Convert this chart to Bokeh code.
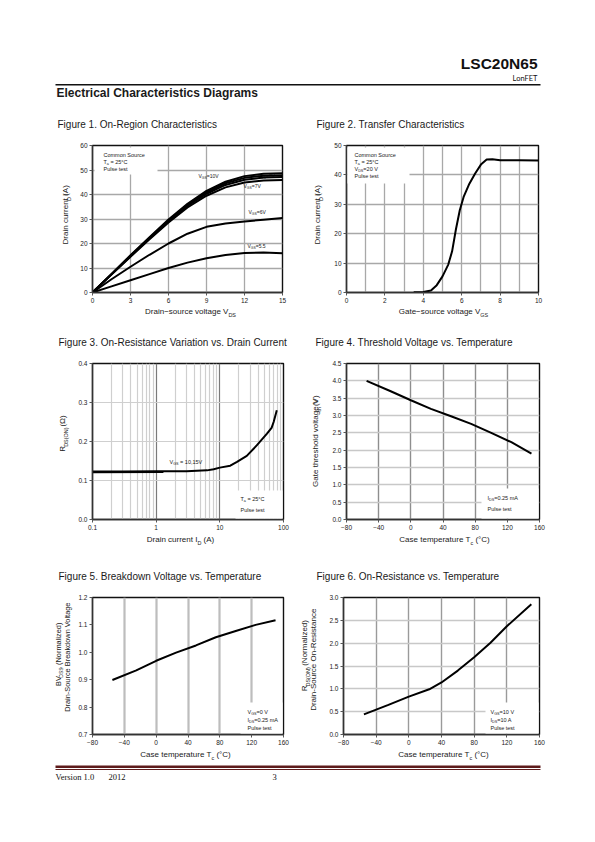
import math
from bokeh.plotting import figure
from bokeh.models import Range1d, Label, BoxAnnotation, FixedTicker, NumeralTickFormatter
from bokeh.layouts import column, row
from bokeh.embed import file_html
from bokeh.resources import INLINE

FONT = "Liberation Sans"

# ---------------- data ----------------
# Figure 1: On-Region Characteristics
fig1_vds = [0, 1.5, 3, 4.5, 6, 7.5, 9, 10.5, 12, 13.5, 15]
fig1_id_vgs10 = [0, 7.6, 15.2, 22.6, 29.8, 36.2, 41.5, 45.2, 47.5, 48.5, 48.7]
fig1_id_vgs8 = [0, 7.5, 15.0, 22.3, 29.4, 35.8, 40.9, 44.6, 46.8, 47.7, 47.9]
fig1_id_vgs7_5 = [0, 7.4, 14.8, 22.0, 29.0, 35.3, 40.3, 43.9, 46.0, 46.9, 47.1]
fig1_id_vgs7 = [0, 7.3, 14.6, 21.7, 28.6, 34.7, 39.5, 42.9, 44.9, 45.7, 45.9]
fig1_id_vgs6 = [0, 5.4, 10.5, 15.4, 20.0, 24.0, 26.8, 28.2, 29.0, 29.7, 30.4]
fig1_id_vgs5_5 = [0, 2.5, 5.0, 7.5, 10.0, 12.2, 14.0, 15.3, 16.1, 16.3, 16.0]
fig1_xticks = [0, 3, 6, 9, 12, 15]
fig1_yticks = [0, 10, 20, 30, 40, 50, 60]

# Figure 2: Transfer Characteristics
fig2_vgs = [3.5, 4.0, 4.4, 4.7, 5.0, 5.3, 5.5, 5.7, 5.9, 6.1, 6.4, 6.7, 7.0, 7.3, 7.6, 8.0, 9.0, 10.0]
fig2_id = [0.1, 0.2, 0.7, 2.5, 5.5, 9.5, 14.0, 21.5, 28.0, 32.5, 37.0, 40.5, 43.5, 45.2, 45.3, 45.0, 45.0, 44.9]
fig2_xticks = [0, 2, 4, 6, 8, 10]
fig2_xgrid = [1, 2, 3, 4, 5, 6, 7, 8, 9]
fig2_yticks = [0, 10, 20, 30, 40, 50]

# Figure 3: On-Resistance vs Drain Current
fig3_id = [0.1, 0.3, 1, 3, 6.3, 8, 10, 14.6, 18.6, 26.5, 38, 55, 65, 70, 78.5]
fig3_rds = [0.123, 0.123, 0.124, 0.124, 0.126, 0.129, 0.133, 0.138, 0.148, 0.163, 0.19, 0.22, 0.235, 0.25, 0.28]
fig3_id_15v = [0.1, 1.3]
fig3_rds_15v = [0.121, 0.122]
fig3_xticks = [0.1, 1, 10, 100]
fig3_xlabels = ["0.1", "1", "10", "100"]
fig3_xminor = [0.2, 0.3, 0.4, 0.5, 0.6, 0.7, 0.8, 0.9, 2, 3, 4, 5, 6, 7, 8, 9,
               20, 30, 40, 50, 60, 70, 80, 90]
fig3_yticks = [0.0, 0.1, 0.2, 0.3, 0.4]

# Figure 4: Threshold Voltage vs Temperature
fig4_tc = [-55, -25, 0, 25, 50, 75, 100, 125, 150]
fig4_vth = [4.0, 3.70, 3.44, 3.19, 2.98, 2.76, 2.50, 2.23, 1.90]
fig4_yticks = [0.0, 0.5, 1.0, 1.5, 2.0, 2.5, 3.0, 3.5, 4.0, 4.5]

# Figure 5: Breakdown Voltage vs Temperature
fig5_tc = [-55, -25, 0, 25, 50, 75, 100, 125, 150]
fig5_bv = [0.899, 0.934, 0.969, 0.999, 1.025, 1.055, 1.078, 1.100, 1.117]
fig5_yticks = [0.7, 0.8, 0.9, 1.0, 1.1, 1.2]

# Figure 6: On-Resistance vs Temperature
fig6_tc = [-55, -25, 0, 25, 40, 60, 80, 100, 120, 150]
fig6_rds = [0.44, 0.65, 0.83, 0.99, 1.14, 1.40, 1.69, 2.01, 2.37, 2.85]
fig6_yticks = [0.0, 0.5, 1.0, 1.5, 2.0, 2.5, 3.0]

temp_ticks = [-80, -40, 0, 40, 80, 120, 160]

# ---------------- text helpers ----------------
CW = {' ': 278, '!': 278, '(': 333, ')': 333, ',': 278, '-': 333, '.': 278, '/': 278,
      ':': 278, '=': 584, '°': 400, 'Ω': 768, '−': 584, "'": 191}
for ch in "0123456789":
    CW[ch] = 556
CW.update(dict(A=667, B=667, C=722, D=722, E=667, F=611, G=778, H=722, I=278, J=500, K=667,
               L=556, M=833, N=722, O=778, P=667, Q=778, R=722, S=667, T=611, U=722, V=667,
               W=944, X=667, Y=667, Z=611))
CW.update(dict(a=556, b=556, c=500, d=556, e=556, f=278, g=556, h=556, i=222, j=222, k=500,
               l=222, m=833, n=556, o=556, p=556, q=556, r=333, s=500, t=278, u=556, v=500,
               w=722, x=500, y=500, z=500))

BASE_K = 0.33   # correction of the rendered baseline position (fraction of font size)


def text_width(s, size):
    return sum(CW.get(c, 556) for c in s) * size / 1000.0


class Frame:
    """Maps page pixel positions onto a figure's data space."""
    def __init__(self, L, R, T, B, xr, yr, xlog=False):
        self.L, self.R, self.T, self.B = L, R, T, B
        self.xr, self.yr, self.xlog = xr, yr, xlog

    def to_data(self, px, py):
        fx = (px - self.L) / (self.R - self.L)
        if self.xlog:
            a, b = math.log10(self.xr[0]), math.log10(self.xr[1])
            x = 10 ** (a + fx * (b - a))
        else:
            x = self.xr[0] + fx * (self.xr[1] - self.xr[0])
        fy = (self.B - py) / (self.B - self.T)
        y = self.yr[0] + fy * (self.yr[1] - self.yr[0])
        return x, y


def _label(p, fr, qx, qy, txt, size, align, vertical, font, color, bold, level):
    x, y = fr.to_data(qx, qy)
    kw = dict(x=x, y=y, text=txt, text_font=font, text_font_size=f"{size:.2f}px",
              text_baseline="alphabetic", text_align=align, text_color=color,
              angle=(math.pi / 2 if vertical else 0.0),
              text_font_style=("bold" if bold else "normal"))
    if level:
        kw["level"] = level
    p.add_layout(Label(**kw))


def rich(p, fr, px, py, segs, fs, align="left", vertical=False, font=FONT,
         color="#1a1a1a", bold=False, level=None):
    corr = BASE_K * fs
    if len(segs) == 1 and not segs[0][1]:
        # plain text: let the library align it
        qx, qy = (px - corr, py) if vertical else (px, py - corr)
        _label(p, fr, qx, qy, segs[0][0], fs, align, vertical, font, color, bold, level)
        return
    parts = []
    for txt, sub in segs:
        size = fs * 0.68 if sub else fs
        parts.append((txt, sub, size, text_width(txt, size)))
    total = sum(w for *_, w in parts)
    cur = {"left": 0.0, "center": -total / 2.0, "right": -total}[align]
    for txt, sub, size, w in parts:
        lead = len(txt) - len(txt.lstrip(" "))
        adv = text_width(" " * lead, size)
        shift = fs * 0.33 if sub else 0.0
        pos = cur + adv
        if vertical:
            qx, qy = px + shift - corr, py - pos
        else:
            qx, qy = px + pos, py + shift - corr
        _label(p, fr, qx, qy, txt.strip(" "), size, "left", vertical, font, color, bold, level)
        cur += w


def box(p, fr, x0, y0, x1, y1):
    l, t = fr.to_data(x0, y0)
    r, b = fr.to_data(x1, y1)
    p.add_layout(BoxAnnotation(left=l, right=r, top=t, bottom=b, fill_color="white",
                               fill_alpha=1.0, line_color=None))


N = lambda s: (s, False)
S = lambda s: (s, True)

# ---------------- layout constants (page px) ----------------
PAGE_X0, PAGE_X1 = 0, 595
HEAD = (0, 136)
ROW1 = (136, 308)
BAND_A = (308, 352)
ROW2 = (352, 535)
BAND_B = (535, 587)
ROW3 = (587, 750)
FOOT = (750, 792)
YL_L = (0, 74)
PL = (74, 296)
YL_R = (296, 328)
PR = (328, 595)
YL_R3 = (296, 326)
PR3 = (326, 595)


def band(xs, ys):
    x0, x1 = xs
    y0, y1 = ys
    p = figure(width=x1 - x0, height=y1 - y0, x_range=Range1d(x0, x1),
               y_range=Range1d(y1, y0), output_backend="svg", toolbar_location=None,
               x_axis_type=None, y_axis_type=None, min_border=0)
    p.outline_line_color = None
    p.border_fill_color = "white"
    p.background_fill_color = "white"
    fr = Frame(x0, x1, y0, y1, (x0, x1), (y1, y0))
    return p, fr


def make_plot(frame_box, cell_x, cell_y, xr, yr, xlog=False):
    L, R, T, B = frame_box
    cx0, cx1 = cell_x
    cy0, cy1 = cell_y
    p = figure(width=cx1 - cx0, height=cy1 - cy0, x_range=Range1d(*xr), y_range=Range1d(*yr),
               x_axis_type=("log" if xlog else "linear"), output_backend="svg",
               toolbar_location=None, min_border_left=L - cx0, min_border_right=cx1 - R,
               min_border_top=T - cy0, min_border_bottom=cy1 - B)
    p.outline_line_color = "#111111"
    p.outline_line_width = 1.4
    p.border_fill_color = "white"
    p.background_fill_color = "white"
    for ax in (p.xaxis[0], p.yaxis[0]):
        ax.axis_line_color = "#333333"
        ax.axis_line_width = 1.4
        ax.major_tick_in = 0
        ax.major_tick_out = 3
        ax.major_tick_line_color = "#555555"
        ax.minor_tick_line_color = None
        ax.major_label_text_font = FONT
        ax.major_label_text_font_size = "6.5px"
        ax.major_label_text_color = "#222222"
        ax.major_label_standoff = 2
    fr = Frame(L, R, T, B, xr, yr, xlog)
    return p, fr


# ---------------- header ----------------
head, hf = band((PAGE_X0, PAGE_X1), HEAD)
rich(head, hf, 537, 68, [N("LSC20N65")], 15.5, align="right", bold=True, color="#111111")
rich(head, hf, 537, 80, [N("LonFET")], 7.5, align="right", font="Lato", color="#111111")
head.segment(x0=[55], y0=[84.3], x1=[540], y1=[84.3], line_color="#111111", line_width=1.4)
rich(head, hf, 56, 96, [N("Electrical Characteristics Diagrams")], 12, bold=True)
rich(head, hf, 57, 127, [N("Figure 1. On-Region Characteristics")], 10)
rich(head, hf, 316, 127, [N("Figure 2. Transfer Characteristics")], 10)

# ---------------- Figure 1 ----------------
p1, f1 = make_plot((92, 282, 145, 292), PL, ROW1, (0, 15), (0, 60))
p1.xaxis.ticker = FixedTicker(ticks=fig1_xticks)
p1.yaxis.ticker = FixedTicker(ticks=fig1_yticks)
p1.xgrid.ticker = FixedTicker(ticks=fig1_xticks)
p1.ygrid.ticker = FixedTicker(ticks=fig1_yticks)
p1.grid.grid_line_color = "#a8a8a8"
p1.grid.grid_line_width = 1.3
box(p1, f1, 94, 147, 157, 174)
rich(p1, f1, 257, 177, [N("V"), S("GS"), N("=8V")], 5, level="underlay")
for ys in (fig1_id_vgs10, fig1_id_vgs8, fig1_id_vgs7_5, fig1_id_vgs7, fig1_id_vgs6, fig1_id_vgs5_5):
    p1.line(fig1_vds, ys, line_color="black", line_width=2)
rich(p1, f1, 103, 156, [N("Common Source")], 5.5)
rich(p1, f1, 103, 163, [N("T"), S("a"), N(" = 25°C")], 5.5)
rich(p1, f1, 103, 170, [N("Pulse test")], 5.5)
rich(p1, f1, 198, 177, [N("V"), S("GS"), N("=10V")], 5)
rich(p1, f1, 243, 187, [N("V"), S("GS"), N("=7V")], 5)
rich(p1, f1, 248, 213.5, [N("V"), S("GS"), N("=6V")], 5)
rich(p1, f1, 247, 247, [N("V"), S("GS"), N("=5.5")], 5)
yl1, ylf1 = band(YL_L, ROW1)
rich(yl1, ylf1, 68, 218, [N("Drain current I"), S("D"), N(" (A)")], 8, align="center", vertical=True)

# ---------------- Figure 2 ----------------
p2, f2 = make_plot((346, 538, 145, 292), PR, ROW1, (0, 10), (0, 50))
p2.xaxis.ticker = FixedTicker(ticks=fig2_xticks)
p2.yaxis.ticker = FixedTicker(ticks=fig2_yticks)
p2.xgrid.ticker = FixedTicker(ticks=fig2_xgrid)
p2.ygrid.ticker = FixedTicker(ticks=fig2_yticks)
p2.grid.grid_line_color = "#a8a8a8"
p2.grid.grid_line_width = 1.3
box(p2, f2, 347, 147, 409, 183)
p2.line(fig2_vgs, fig2_id, line_color="black", line_width=2)
rich(p2, f2, 354, 156, [N("Common Source")], 5.5)
rich(p2, f2, 354, 163, [N("T"), S("a"), N(" = 25°C")], 5.5)
rich(p2, f2, 354, 170, [N("V"), S("DS"), N("=20 V")], 5.5)
rich(p2, f2, 354, 177, [N("Pulse test")], 5.5)
yl2, ylf2 = band(YL_R, ROW1)
rich(yl2, ylf2, 320, 218, [N("Drain current I"), S("D"), N(" (A)")], 8, align="center", vertical=True)

# ---------------- band A: x labels of row 1, titles of row 2 ----------------
ba, baf = band((PAGE_X0, PAGE_X1), BAND_A)
rich(ba, baf, 190, 314, [N("Drain−source voltage V"), S("DS")], 8, align="center")
rich(ba, baf, 443, 314, [N("Gate−source voltage V"), S("GS")], 8, align="center")
rich(ba, baf, 58, 345.5, [N("Figure 3. On-Resistance Variation vs. Drain Current")], 10)
rich(ba, baf, 315, 345.5, [N("Figure 4. Threshold Voltage vs. Temperature")], 10)

# ---------------- Figure 3 ----------------
p3, f3 = make_plot((92, 283, 363, 519), PL, ROW2, (0.1, 100), (0, 0.4), xlog=True)
p3.xaxis.ticker = FixedTicker(ticks=fig3_xticks)
p3.xaxis.major_label_overrides = {t: s for t, s in zip(fig3_xticks, fig3_xlabels)}
p3.yaxis.ticker = FixedTicker(ticks=fig3_yticks)
p3.yaxis.formatter = NumeralTickFormatter(format="0.0")
p3.xgrid.ticker = FixedTicker(ticks=fig3_xticks, minor_ticks=fig3_xminor)
p3.xgrid.grid_line_color = "#7a7a7a"
p3.xgrid.grid_line_width = 1.2
p3.xgrid.minor_grid_line_color = "#cfcfcf"
p3.xgrid.minor_grid_line_width = 1.2
p3.ygrid.ticker = FixedTicker(ticks=fig3_yticks)
p3.ygrid.grid_line_color = "#cfcfcf"
p3.ygrid.grid_line_width = 1.2
box(p3, f3, 235, 490, 282, 518)
p3.line(fig3_id_15v, fig3_rds_15v, line_color="black", line_width=2)
p3.line(fig3_id, fig3_rds, line_color="black", line_width=2)
rich(p3, f3, 169, 463, [N("V"), S("GS"), N(" = 10,15V")], 5.5)
rich(p3, f3, 240, 500, [N("T"), S("a"), N(" = 25°C")], 5.5)
rich(p3, f3, 240, 511, [N("Pulse test")], 5.5)
yl3, ylf3 = band(YL_L, ROW2)
rich(yl3, ylf3, 65, 435, [N("R"), S("DS(ON)"), N("  (Ω)")], 8, align="center", vertical=True)

# ---------------- Figure 4 ----------------
p4, f4 = make_plot((346, 539, 363, 519), PR, ROW2, (-80, 160), (0, 4.5))
p4.xaxis.ticker = FixedTicker(ticks=temp_ticks)
p4.yaxis.ticker = FixedTicker(ticks=fig4_yticks)
p4.yaxis.formatter = NumeralTickFormatter(format="0.0")
p4.xgrid.ticker = FixedTicker(ticks=temp_ticks)
p4.xgrid.grid_line_color = "#8e8e8e"
p4.xgrid.grid_line_width = 1.4
p4.ygrid.ticker = FixedTicker(ticks=fig4_yticks)
p4.ygrid.grid_line_color = "#c8c8c8"
p4.ygrid.grid_line_width = 1.3
box(p4, f4, 481, 488, 538, 518)
p4.line(fig4_tc, fig4_vth, line_color="black", line_width=2)
rich(p4, f4, 487, 499, [N("I"), S("DS"), N("=0.25 mA")], 5.5)
rich(p4, f4, 487, 510, [N("Pulse test")], 5.5)
yl4, ylf4 = band(YL_R, ROW2)
rich(yl4, ylf4, 318, 444, [N("Gate threshold voltage V"), S("th"), N(" (V)")], 8, align="center",
     vertical=True)

# ---------------- band B: x labels of row 2, titles of row 3 ----------------
bb, bbf = band((PAGE_X0, PAGE_X1), BAND_B)
rich(bb, bbf, 180, 542, [N("Drain current I"), S("D"), N(" (A)")], 8, align="center")
rich(bb, bbf, 444, 542, [N("Case temperature T"), S("c"), N(" (°C)")], 8, align="center")
rich(bb, bbf, 58, 579.5, [N("Figure 5. Breakdown Voltage vs. Temperature")], 10)
rich(bb, bbf, 316, 579.5, [N("Figure 6. On-Resistance vs. Temperature")], 10)

# ---------------- Figure 5 ----------------
p5, f5 = make_plot((92, 283, 597, 734), PL, ROW3, (-80, 160), (0.7, 1.2))
p5.xaxis.ticker = FixedTicker(ticks=temp_ticks)
p5.yaxis.ticker = FixedTicker(ticks=fig5_yticks)
p5.yaxis.formatter = NumeralTickFormatter(format="0.0")
p5.xgrid.ticker = FixedTicker(ticks=temp_ticks)
p5.xgrid.grid_line_color = "#bdbdbd"
p5.xgrid.grid_line_width = 2.2
p5.ygrid.visible = False
box(p5, f5, 240, 702, 282, 733)
p5.line(fig5_tc, fig5_bv, line_color="black", line_width=2)
rich(p5, f5, 247, 713, [N("V"), S("GS"), N("=0 V")], 5.5)
rich(p5, f5, 247, 721, [N("I"), S("DS"), N("=0.25 mA")], 5.5)
rich(p5, f5, 247, 729, [N("Pulse test")], 5.5)
yl5, ylf5 = band(YL_L, ROW3)
rich(yl5, ylf5, 60, 659, [N("BV"), S("DSS"), N(", (Normalized)")], 7.4, align="center", vertical=True)
rich(yl5, ylf5, 69, 658, [N("Drain-Source Breakdown Voltage")], 7.4, align="center", vertical=True)

# ---------------- Figure 6 ----------------
p6, f6 = make_plot((343, 539, 597, 734), PR3, ROW3, (-80, 160), (0, 3.0))
p6.xaxis.ticker = FixedTicker(ticks=temp_ticks)
p6.yaxis.ticker = FixedTicker(ticks=fig6_yticks)
p6.yaxis.formatter = NumeralTickFormatter(format="0.0")
p6.xgrid.ticker = FixedTicker(ticks=temp_ticks)
p6.xgrid.grid_line_color = "#9a9a9a"
p6.xgrid.grid_line_width = 1.4
p6.ygrid.ticker = FixedTicker(ticks=fig6_yticks)
p6.ygrid.grid_line_color = "#c8c8c8"
p6.ygrid.grid_line_width = 1.3
box(p6, f6, 485, 702, 538, 733)
p6.line(fig6_tc, fig6_rds, line_color="black", line_width=2)
rich(p6, f6, 490, 713, [N("V"), S("GS"), N("=10 V")], 5.5)
rich(p6, f6, 490, 721, [N("I"), S("DS"), N("=10 A")], 5.5)
rich(p6, f6, 490, 729, [N("Pulse test")], 5.5)
yl6, ylf6 = band(YL_R3, ROW3)
rich(yl6, ylf6, 307, 661, [N("R"), S("DS(ON)"), N(", (Normalized)")], 8, align="center", vertical=True)
rich(yl6, ylf6, 316, 661, [N("Drain-Source On-Resistance")], 8, align="center", vertical=True)

# ---------------- footer: x labels of row 3, page footer ----------------
foot, ff = band((PAGE_X0, PAGE_X1), FOOT)
rich(foot, ff, 185, 757, [N("Case temperature T"), S("c"), N(" (°C)")], 8, align="center")
rich(foot, ff, 443, 757, [N("Case temperature T"), S("c"), N(" (°C)")], 8, align="center")
foot.segment(x0=[55], y0=[766.3], x1=[540], y1=[766.3], line_color="#5e1b1b", line_width=2.4)
foot.segment(x0=[55], y0=[769.0], x1=[540], y1=[769.0], line_color="#5e1b1b", line_width=1.0)
rich(foot, ff, 55, 779, [N("Version 1.0")], 8.5, font="Liberation Serif", color="#111111")
rich(foot, ff, 108, 779, [N("2012")], 8.5, font="Liberation Serif", color="#111111")
rich(foot, ff, 272, 779, [N("3")], 8.5, font="Liberation Serif", color="#111111")

layout = column(head,
                row(yl1, p1, yl2, p2),
                ba,
                row(yl3, p3, yl4, p4),
                bb,
                row(yl5, p5, yl6, p6),
                foot)
open("out.html", "w").write(file_html(layout, INLINE, title="LSC20N65"))
